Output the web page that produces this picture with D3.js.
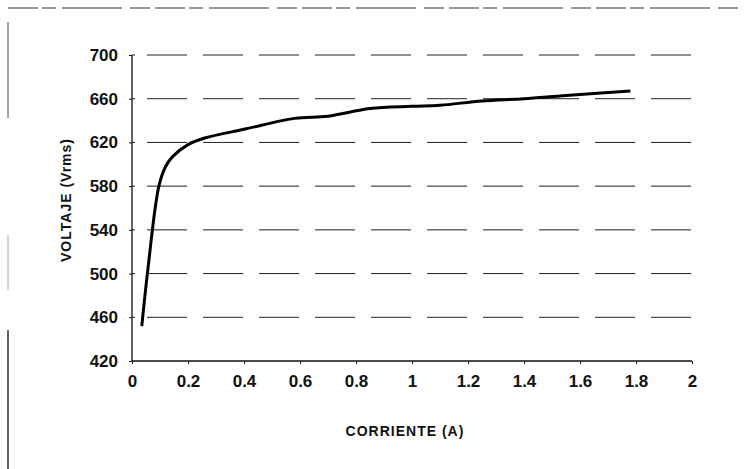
<!DOCTYPE html>
<html>
<head>
<meta charset="utf-8">
<script src="https://cdn.jsdelivr.net/npm/d3@7"></script>
<style>
  body { margin: 0; background: #fff; }
  svg { display: block; }
  .axis text { font-family: "Liberation Sans", Arial, sans-serif; font-weight: bold; font-size: 17px; fill: #111; }
  .title { font-family: "Liberation Sans", Arial, sans-serif; font-weight: bold; font-size: 14px; fill: #111; letter-spacing: 1px; }
</style>
</head>
<body>
<script>
// data
var corriente = [0.035, 0.055, 0.096, 0.12, 0.145, 0.2, 0.26, 0.4, 0.58, 0.7, 0.85, 1.0, 1.1, 1.25, 1.4, 1.55, 1.78];
var voltaje   = [452, 500, 580, 598, 607, 618, 624, 632, 642, 644, 651, 653, 654, 658, 660, 663, 667];
var xTicks = [0, 0.2, 0.4, 0.6, 0.8, 1, 1.2, 1.4, 1.6, 1.8, 2];
var yTicks = [420, 460, 500, 540, 580, 620, 660, 700];

// 1. margin
var W = 744, H = 469;
var margin = {top: 55, right: 52, bottom: 108, left: 132},
	width = W - margin.left - margin.right,
	height = H - margin.top - margin.bottom;

var svg = d3.select("body").append("svg")
	.attr("width", W)
	.attr("height", H);

// scan borders (top and left edge of the page)
svg.append("line")
	.attr("x1", 8).attr("x2", W - 4).attr("y1", 8).attr("y2", 8)
	.attr("stroke", "#333").attr("stroke-width", 1.2)
	.attr("stroke-dasharray", "30,4,14,6,60,8,20,5");
svg.append("line")
	.attr("x1", 8).attr("x2", 8).attr("y1", 22).attr("y2", 118)
	.attr("stroke", "#444").attr("stroke-width", 1);
svg.append("line")
	.attr("x1", 8).attr("x2", 8).attr("y1", 235).attr("y2", 290)
	.attr("stroke", "#aaa").attr("stroke-width", 1);
svg.append("line")
	.attr("x1", 8).attr("x2", 8).attr("y1", 330).attr("y2", H)
	.attr("stroke", "#111").attr("stroke-width", 1.3);

var g = svg.append("g")
	.attr("transform", "translate(" + margin.left + "," + margin.top + ")");

// 2. scales
var xScale = d3.scaleLinear().domain([0, 2]).range([0, width]);
var yScale = d3.scaleLinear().domain([420, 700]).range([height, 0]);

// gridlines (dashed, like the photocopy)
g.selectAll(".grid")
	.data(yTicks.filter(function(d){ return d > 420; }))
	.enter().append("line")
	.attr("class", "grid")
	.attr("x1", 0).attr("x2", width)
	.attr("y1", function(d){ return yScale(d); })
	.attr("y2", function(d){ return yScale(d); })
	.attr("stroke", "#222")
	.attr("stroke-width", 1)
	.attr("stroke-dasharray", "3,12,40,16,40,16,40,16,40,16,40,16,40,16,40,16,40,16,40,16,40,16");

// 3. axes
var xAxis = d3.axisBottom(xScale).tickValues(xTicks).tickSize(3).tickPadding(11)
	.tickFormat(function(d){ return d3.format("")(d); });
var yAxis = d3.axisLeft(yScale).tickValues(yTicks).tickSize(3).tickPadding(11);

g.append("g")
	.attr("class", "x axis")
	.attr("transform", "translate(0," + height + ")")
	.call(xAxis);
g.append("g")
	.attr("class", "y axis")
	.call(yAxis);
g.selectAll(".axis path").attr("stroke", "#111").attr("stroke-width", 1.3);
g.selectAll(".axis .tick line").attr("stroke", "#111");
g.selectAll(".axis .domain").attr("d", function(){
	return d3.select(this.parentNode).classed("x") ? "M0,0H" + width : "M0,0V" + height;
});

// 4. curve
var pts = corriente.map(function(c, i){ return [c, voltaje[i]]; });
var line = d3.line()
	.x(function(d){ return xScale(d[0]); })
	.y(function(d){ return yScale(d[1]); })
	.curve(d3.curveCatmullRom.alpha(0.5));
g.append("path")
	.datum(pts)
	.attr("d", line)
	.attr("fill", "none")
	.attr("stroke", "#000")
	.attr("stroke-width", 3)
	.attr("stroke-linejoin", "round");

// 5. axis titles
svg.append("text")
	.attr("class", "title")
	.attr("text-anchor", "middle")
	.attr("x", 405)
	.attr("y", 436)
	.text("CORRIENTE  (A)");
svg.append("text")
	.attr("class", "title")
	.attr("text-anchor", "middle")
	.attr("transform", "translate(71,200) rotate(-90)")
	.text("VOLTAJE (Vrms)");
</script>
</body>
</html>
